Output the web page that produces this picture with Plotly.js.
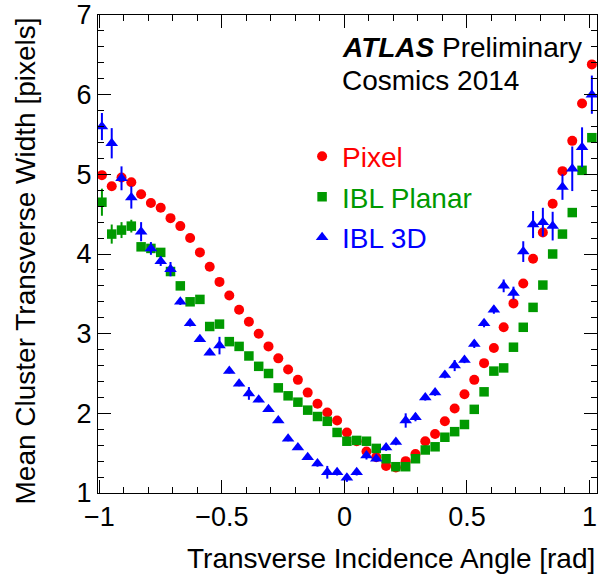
<!DOCTYPE html>
<html>
<head>
<meta charset="utf-8">
<script src="https://cdn.plot.ly/plotly-3.0.1.min.js"></script>
<style>
  html, body { margin: 0; padding: 0; background: #ffffff; }
  #chart { width: 601px; height: 576px; }
</style>
</head>
<body>
<div id="chart"></div>
<script>
// Transverse incidence angle bin centres [rad]
const angle = [
  -0.99, -0.95, -0.91, -0.87, -0.83, -0.79, -0.75, -0.71, -0.67, -0.63,
  -0.59, -0.55, -0.51, -0.47, -0.43, -0.39, -0.35, -0.31, -0.27, -0.23,
  -0.19, -0.15, -0.11, -0.07, -0.03, 0.01, 0.05, 0.09, 0.13, 0.17,
  0.21, 0.25, 0.29, 0.33, 0.37, 0.41, 0.45, 0.49, 0.53, 0.57,
  0.61, 0.65, 0.69, 0.73, 0.77, 0.81, 0.85, 0.89, 0.93, 0.97, 1.01
];

// Mean cluster transverse width [pixels]
const pixelWidth = [
  4.99, 4.85, 4.96, 4.90, 4.75, 4.64, 4.58, 4.45, 4.35, 4.20,
  4.02, 3.84, 3.65, 3.48, 3.30, 3.15, 3.00, 2.84, 2.69, 2.55,
  2.42, 2.26, 2.12, 2.01, 1.91, 1.76, 1.65, 1.52, 1.45, 1.34,
  1.32, 1.40, 1.49, 1.65, 1.74, 1.90, 2.06, 2.24, 2.42, 2.63,
  2.82, 3.08, 3.38, 3.63, 3.94, 4.27, 4.63, 5.04, 5.42, 5.89, 6.38
];

const planarWidth = [
  4.65, 4.25, 4.30, 4.35, 4.09, 4.07, 4.02, 3.78, 3.60, 3.40,
  3.43, 3.09, 3.12, 2.90, 2.84, 2.72, 2.59, 2.50, 2.32, 2.22,
  2.14, 2.04, 1.96, 1.90, 1.76, 1.65, 1.66, 1.65, 1.56, 1.43,
  1.33, 1.33, 1.43, 1.54, 1.58, 1.70, 1.77, 1.86, 2.05, 2.27,
  2.53, 2.57, 2.83, 3.08, 3.33, 3.61, 4.00, 4.25, 4.52, 5.05, 5.46
];
const planarErr = [
  0.17, 0.12, 0.10, 0.08, 0.05, 0.04, 0.03, 0.03, 0.03, 0.03,
  0.03, 0.03, 0.03, 0.03, 0.03, 0.03, 0.03, 0.03, 0.03, 0.03,
  0.03, 0.03, 0.03, 0.03, 0.03, 0.03, 0.03, 0.03, 0.03, 0.03,
  0.03, 0.03, 0.03, 0.03, 0.03, 0.03, 0.03, 0.03, 0.03, 0.03,
  0.03, 0.03, 0.03, 0.03, 0.03, 0.03, 0.04, 0.04, 0.05, 0.04, 0.05
];

const threeDWidth = [
  5.60, 5.39, 4.95, 4.71, 4.28, 4.07, 3.91, 3.81, 3.40, 3.13,
  2.93, 2.76, 2.85, 2.53, 2.37, 2.25, 2.17, 2.05, 1.91, 1.68,
  1.57, 1.45, 1.37, 1.26, 1.26, 1.19, 1.26, 1.47, 1.43, 1.57,
  1.64, 1.91, 1.95, 2.20, 2.26, 2.48, 2.60, 2.67, 2.87, 3.13,
  3.30, 3.60, 3.51, 4.03, 4.37, 4.40, 4.35, 4.84, 5.07, 5.34, 6.00
];
const threeDErr = [
  0.17, 0.19, 0.15, 0.14, 0.12, 0.08, 0.06, 0.09, 0.04, 0.04,
  0.03, 0.03, 0.11, 0.03, 0.03, 0.08, 0.03, 0.03, 0.03, 0.03,
  0.03, 0.03, 0.04, 0.08, 0.04, 0.05, 0.04, 0.05, 0.04, 0.04,
  0.04, 0.09, 0.05, 0.04, 0.04, 0.04, 0.07, 0.04, 0.05, 0.05,
  0.05, 0.08, 0.08, 0.13, 0.17, 0.18, 0.18, 0.16, 0.28, 0.25, 0.24
];

const RED = '#ff0000';
const GREEN = '#009900';
const BLUE = '#0000ff';
const FONT = 'Liberation Sans, Arial, Helvetica, sans-serif';

const traces = [
  {
    x: angle, y: pixelWidth, type: 'scatter', mode: 'markers',
    name: '<span style="color:' + RED + '">Pixel</span>',
    legendgroup: 'pix',
    marker: { symbol: 'circle', size: 10, color: RED, line: { width: 0 } }
  },
  {
    x: angle, y: planarWidth, type: 'scatter', mode: 'markers',
    name: '<span style="color:' + GREEN + '">IBL Planar</span>',
    legendgroup: 'planar',
    error_y: { type: 'data', array: planarErr, visible: true, color: GREEN, thickness: 2, width: 0 },
    marker: { symbol: 'square', size: 9.5, color: GREEN, line: { width: 0 } }
  },
  {
    x: angle, y: threeDWidth, type: 'scatter', mode: 'markers',
    name: '<span style="color:' + BLUE + '">IBL 3D</span>',
    legendgroup: 'threeD',
    error_y: { type: 'data', array: threeDErr, visible: true, color: BLUE, thickness: 2, width: 0 },
    marker: { symbol: 'triangle-up', size: 11, color: BLUE, line: { width: 0 } }
  }
];

const axisCommon = {
  showgrid: false,
  zeroline: false,
  showline: true,
  linecolor: '#000000',
  linewidth: 1,
  mirror: 'ticks',
  ticks: 'inside',
  ticklen: 13,
  tickwidth: 1,
  tickcolor: '#000000',
  tickfont: { family: FONT, size: 27, color: '#000000' }
};

const layout = {
  width: 601,
  height: 576,
  paper_bgcolor: '#ffffff',
  plot_bgcolor: '#ffffff',
  font: { family: FONT, size: 27, color: '#000000' },
  margin: { l: 98, r: 4, t: 15, b: 83, pad: 0 },
  showlegend: true,
  legend: {
    x: 0.409, y: 0.756, xanchor: 'left', yanchor: 'top',
    bgcolor: 'rgba(0,0,0,0)', borderwidth: 0,
    font: { family: FONT, size: 28 },
    tracegroupgap: 1,
    itemsizing: 'trace'
  },
  xaxis: Object.assign({}, axisCommon, {
    range: [-1.006, 1.031],
    tickmode: 'array',
    tickvals: [-1, -0.5, 0, 0.5, 1],
    ticktext: ['\u22121', '\u22120.5', '0', '0.5', '1'],
    minor: { dtick: 0.1, tick0: 0, ticks: 'inside', ticklen: 6, tickwidth: 1, tickcolor: '#000000', showgrid: false }
  }),
  yaxis: Object.assign({}, axisCommon, {
    range: [1, 7],
    dtick: 1,
    tick0: 0,
    minor: { dtick: 0.2, tick0: 0, ticks: 'inside', ticklen: 6, tickwidth: 1, tickcolor: '#000000', showgrid: false }
  }),
  annotations: [
    {
      xref: 'paper', yref: 'paper', x: 1, y: -0.138,
      xanchor: 'right', yanchor: 'middle', showarrow: false,
      text: 'Transverse Incidence Angle [rad]',
      font: { family: FONT, size: 28, color: '#000000' }
    },
    {
      xref: 'paper', yref: 'paper', x: -0.1443, y: 1,
      xanchor: 'center', yanchor: 'top', showarrow: false, textangle: -90,
      text: 'Mean Cluster Transverse Width [pixels]',
      font: { family: FONT, size: 28, color: '#000000' }
    },
    {
      xref: 'paper', yref: 'paper', x: 0.485, y: 0.932,
      xanchor: 'left', yanchor: 'middle', showarrow: false,
      text: '<b><i>ATLAS</i></b> Preliminary',
      font: { family: FONT, size: 28, color: '#000000' }
    },
    {
      xref: 'paper', yref: 'paper', x: 0.485, y: 0.863,
      xanchor: 'left', yanchor: 'middle', showarrow: false,
      text: 'Cosmics 2014',
      font: { family: FONT, size: 28, color: '#000000' }
    }
  ]
};

Plotly.newPlot('chart', traces, layout, { staticPlot: true, displayModeBar: false });
</script>
</body>
</html>
